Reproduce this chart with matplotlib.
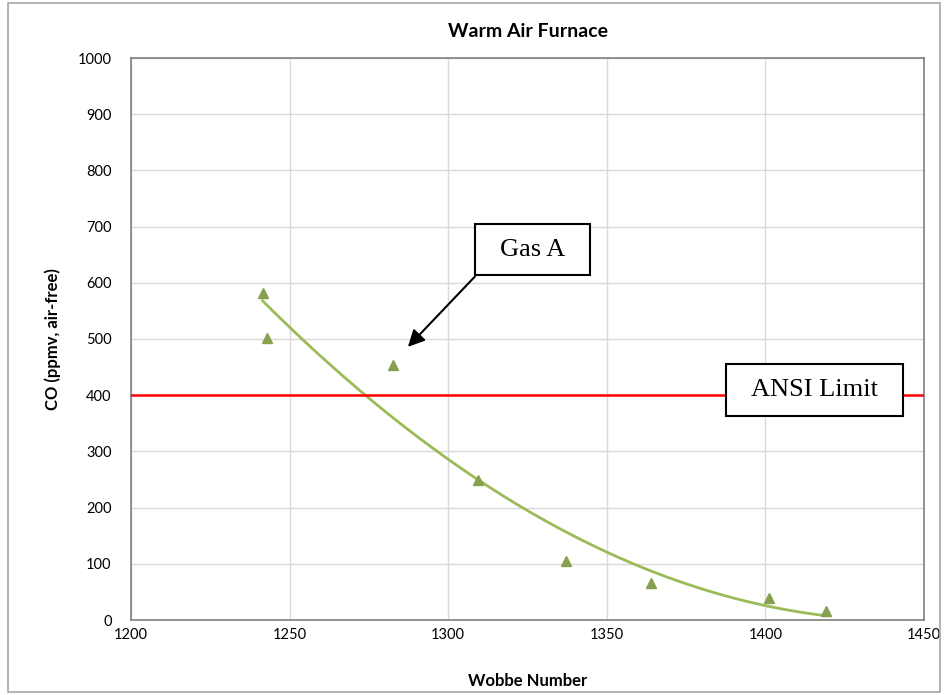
import matplotlib.pyplot as plt
import matplotlib.patches as patches
import numpy as np

# data
wobbe = [1241.5, 1243, 1282.5, 1309.5, 1337, 1364, 1401, 1419]
co = [582, 502, 454, 249, 105, 66, 39, 16]
ansi_limit = 400

x_ticks = [1200, 1250, 1300, 1350, 1400, 1450]
y_ticks = [0, 100, 200, 300, 400, 500, 600, 700, 800, 900, 1000]

plt.rcParams['font.family'] = ['Lato', 'DejaVu Sans']

fig = plt.figure(figsize=(9.49, 6.95), dpi=100)
ax = fig.add_axes([131 / 949, 1 - 620 / 695, (924 - 131) / 949, (620 - 58) / 695])

# outer chart border
fig.patches.append(patches.Rectangle((8 / 949, 3 / 695), (940 - 8) / 949, (692 - 3) / 695,
                                     transform=fig.transFigure, fill=False,
                                     edgecolor='#a6a6a6', linewidth=1.2))

ax.set_xlim(1200, 1450)
ax.set_ylim(0, 1000)
ax.set_xticks(x_ticks)
ax.set_yticks(y_ticks)
ax.grid(True, color='#d9d9d9', linewidth=1)
ax.set_axisbelow(True)
ax.tick_params(length=0, labelsize=10.5)
ax.tick_params(axis='x', pad=6)
ax.tick_params(axis='y', pad=14)
for s in ax.spines.values():
    s.set_color('#808080')
    s.set_linewidth(1.2)

# second order trendline
coef = np.polyfit(wobbe, co, 2)
xs = np.linspace(min(wobbe), max(wobbe), 200)
ax.plot(xs, np.polyval(coef, xs), color='#9bbb59', linewidth=2, zorder=3)

ax.plot(wobbe, co, linestyle='none', marker='^', markersize=7.5, color='#86a04f', zorder=4)

ax.axhline(ansi_limit, color='#ff0000', linewidth=1.8, zorder=3)

ax.set_title('Warm Air Furnace', fontsize=14, fontweight='bold', pad=15)
ax.set_xlabel('Wobbe Number', fontsize=12, fontweight='bold', labelpad=22)
ax.set_ylabel('CO (ppmv, air-free)', fontsize=12, fontweight='bold', labelpad=12)

# callout boxes
ax.add_patch(patches.Rectangle((1308.4, 613.9), 36.3, 90.7, facecolor='white',
                               edgecolor='black', linewidth=1.5, zorder=5))
ax.text(1326.5, 659, 'Gas A', ha='center', va='center', fontsize=19,
        family='Liberation Serif', zorder=6)
ax.annotate('', xy=(1287.3, 486), xytext=(1308.4, 611),
            arrowprops=dict(arrowstyle='-|>', color='black', lw=1.5, mutation_scale=25,
                            shrinkA=0, shrinkB=0), zorder=6)

ax.add_patch(patches.Rectangle((1387.6, 363), 55.8, 92.5, facecolor='white',
                               edgecolor='black', linewidth=1.5, zorder=5))
ax.text(1415.5, 409, 'ANSI Limit', ha='center', va='center', fontsize=19,
        family='Liberation Serif', zorder=6)

fig.savefig('out.png', dpi=100)
